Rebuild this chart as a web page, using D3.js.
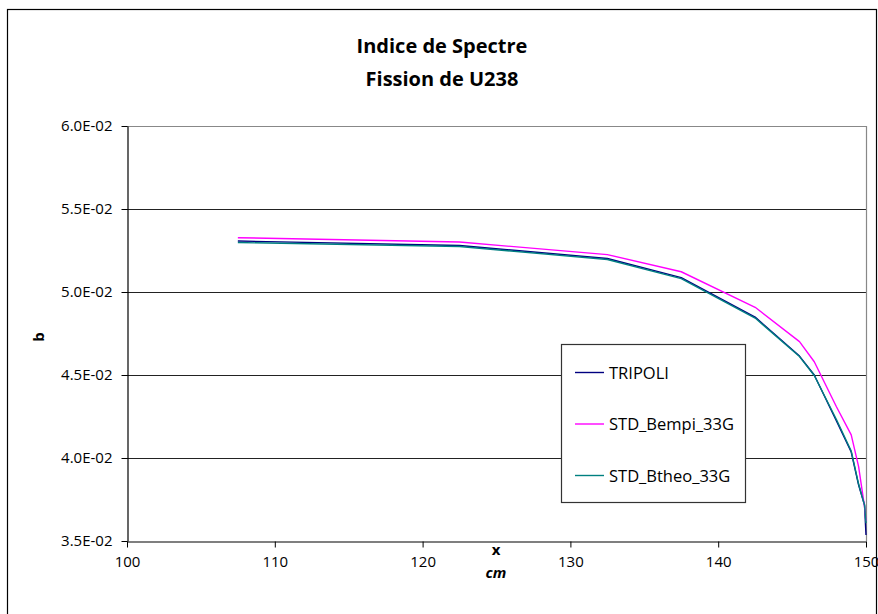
<!DOCTYPE html>
<html>
<head>
<meta charset="utf-8">
<script src="https://cdn.jsdelivr.net/npm/d3@7/dist/d3.min.js"></script>
<style>
  html, body { margin: 0; padding: 0; background: #fff; }
  svg { display: block; }
  text { font-family: "Open Sans", sans-serif; }
</style>
</head>
<body>
<svg id="chart" width="878" height="614"></svg>
<script>
// ---- data ----
const titleLines = ["Indice de Spectre", "Fission de U238"];
const seriesNames = ["TRIPOLI", "STD_Bempi_33G", "STD_Btheo_33G"];
const seriesColors = ["#000080", "#FF00FF", "#008080"];
const xValues = [107.5, 122.5, 132.5, 137.5, 142.5, 145.5, 146.5, 148, 149, 149.5, 149.9, 150];
const tripoli = [0.05307, 0.05280, 0.05202, 0.05087, 0.04849, 0.04614, 0.04500, 0.04223, 0.04036, 0.03837, 0.03717, 0.03536];
const bempi   = [0.05327, 0.05301, 0.05225, 0.05122, 0.04908, 0.04701, 0.04580, 0.04309, 0.04139, 0.03948, 0.03707, 0.03620];
const btheo   = [0.05298, 0.05274, 0.05196, 0.05081, 0.04843, 0.04611, 0.04497, 0.04232, 0.04042, 0.03843, 0.03717, 0.03608];
const xTicks = [100, 110, 120, 130, 140, 150];
const yTicks = [0.035, 0.040, 0.045, 0.050, 0.055, 0.060];
const yTickLabels = ["3.5E-02", "4.0E-02", "4.5E-02", "5.0E-02", "5.5E-02", "6.0E-02"];
const xAxisLabel = "x";
const xUnitLabel = "cm";
const yAxisLabel = "b";

// ---- layout ----
const svg = d3.select("#chart");
const L = 127, R = 866, T = 126, B = 541;

const x = d3.scaleLinear().domain([100, 150]).range([L, R]);
const y = d3.scaleLinear().domain([0.035, 0.060]).range([B, T]);

// outer chart border
svg.append("rect").attr("x", 7.5).attr("y", 9.5).attr("width", 869).attr("height", 640)
  .attr("fill", "#fff").attr("stroke", "#000").attr("stroke-width", 1.2);

// title
svg.selectAll("text.title").data(titleLines).join("text")
  .attr("class", "title")
  .attr("x", 442).attr("y", (d, i) => 53 + i * 33)
  .attr("text-anchor", "middle")
  .attr("font-size", 20).attr("font-weight", "bold").attr("fill", "#000")
  .text(d => d);

// gridlines
svg.append("g").selectAll("line").data(yTicks.slice(1, -1)).join("line")
  .attr("x1", L).attr("x2", R)
  .attr("y1", d => Math.round(y(d)) + 0.5).attr("y2", d => Math.round(y(d)) + 0.5)
  .attr("stroke", "#222").attr("stroke-width", 1.2);

// plot border (top and right)
svg.append("path")
  .attr("d", `M${L},${T + 0.5}H${R + 0.5}V${B}`)
  .attr("fill", "none").attr("stroke", "#888").attr("stroke-width", 1.2);

// series
const allSeries = [tripoli, bempi, btheo];
const line = d3.line().x((d, i) => x(xValues[i])).y(d => y(d));
svg.append("g").selectAll("path").data(allSeries).join("path")
  .attr("d", d => line(d))
  .attr("fill", "none")
  .attr("stroke", (d, i) => seriesColors[i])
  .attr("stroke-width", 1.4)
  .attr("stroke-linejoin", "round");

// axes
const yAxis = d3.axisLeft(y).tickValues(yTicks)
  .tickFormat((d, i) => yTickLabels[i]).tickSize(6).tickSizeOuter(0);
const gy = svg.append("g").attr("transform", `translate(${L + 0.5},0)`).call(yAxis);
gy.select(".domain").attr("stroke", "#000").attr("stroke-width", 1.2);
gy.selectAll(".tick line").attr("stroke", "#000");
gy.selectAll(".tick text").attr("x", -15).attr("font-size", 15).attr("fill", "#000")
  .style("font-family", "'Open Sans', sans-serif");

const xAxis = d3.axisBottom(x).tickValues(xTicks).tickFormat(d3.format("d"))
  .tickSize(6).tickSizeOuter(0);
const gx = svg.append("g").attr("transform", `translate(0,${B + 0.5})`).call(xAxis);
gx.select(".domain").attr("stroke", "#000").attr("stroke-width", 1.2);
gx.selectAll(".tick line").attr("stroke", "#000");
gx.selectAll(".tick text").attr("y", 15).attr("font-size", 15).attr("fill", "#000")
  .style("font-family", "'Open Sans', sans-serif");

// axis titles
svg.append("text").attr("x", 496).attr("y", 555).attr("text-anchor", "middle")
  .attr("font-size", 15).attr("font-weight", "bold").text(xAxisLabel);
svg.append("text").attr("x", 496).attr("y", 578).attr("text-anchor", "middle")
  .attr("font-size", 15).attr("font-weight", "bold").attr("font-style", "italic").text(xUnitLabel);
svg.append("text").attr("transform", "translate(44,337) rotate(-90)").attr("text-anchor", "middle")
  .attr("font-size", 15).attr("font-weight", "bold").text(yAxisLabel);

// legend
const lg = svg.append("g");
lg.append("rect").attr("x", 561.5).attr("y", 344.5).attr("width", 184).attr("height", 158)
  .attr("fill", "#fff").attr("stroke", "#333").attr("stroke-width", 1.2);
const items = lg.selectAll("g.item").data(seriesNames).join("g")
  .attr("class", "item")
  .attr("transform", (d, i) => `translate(0,${372 + i * 51.5})`);
items.append("line").attr("x1", 575).attr("x2", 604).attr("y1", 0.5).attr("y2", 0.5)
  .attr("stroke", (d, i) => seriesColors[i]).attr("stroke-width", 1.4);
items.append("text").attr("x", 609).attr("y", 6.5).attr("font-size", 16.5).attr("fill", "#000")
  .text(d => d);
</script>
</body>
</html>
